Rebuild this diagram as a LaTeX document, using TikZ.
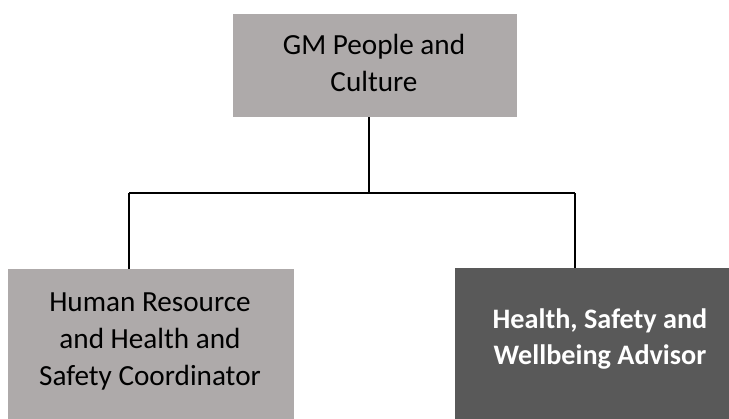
\documentclass[tikz,border=0pt]{standalone}
\usepackage{fontspec}
\setmainfont{Carlito}
\definecolor{boxgrey}{HTML}{AEAAAA}
\definecolor{boxdark}{HTML}{595959}
\begin{document}
\begin{tikzpicture}[x=1pt,y=-1pt,
  rolebox/.style={draw=none, inner sep=0pt, anchor=north west},
  roletext/.style={align=center, inner sep=0pt, font=\fontsize{29.2}{36.7}\selectfont},
  link/.style={draw=black, line width=1.3pt}
]
\useasboundingbox (0,0) rectangle (729,419);
\clip (0,0) rectangle (729,419);

% role boxes
\node[rolebox, fill=boxgrey, minimum width=284pt, minimum height=103pt] (gm) at (233,14) {};
\node[rolebox, fill=boxgrey, minimum width=286pt, minimum height=160pt] (hr) at (8,269) {};
\node[rolebox, fill=boxdark, minimum width=290pt, minimum height=160pt] (hsw) at (455,268) {};

% role titles
\node[roletext, text=black] (gmt) at (374,63) {GM People and\\Culture};
\node[roletext, text=black] (hrt) at (150,341.5) {Human Resource\\and Health and\\Safety Coordinator};
\node[roletext, text=white, font=\fontsize{28.2}{36.7}\selectfont\bfseries] (hswt) at (600,339) {Health, Safety and\\Wellbeing Advisor};

% reporting lines
\coordinate (bus) at (369,193);
\coordinate (busL) at (129,193);
\coordinate (busR) at (575,193);
\draw[link] (gm.south -| bus) -- (bus);
\draw[link] (busL) -- (busR);
\draw[link] (busL) -- (busL |- hr.north);
\draw[link] (busR) -- (busR |- hsw.north);
\end{tikzpicture}
\end{document}
